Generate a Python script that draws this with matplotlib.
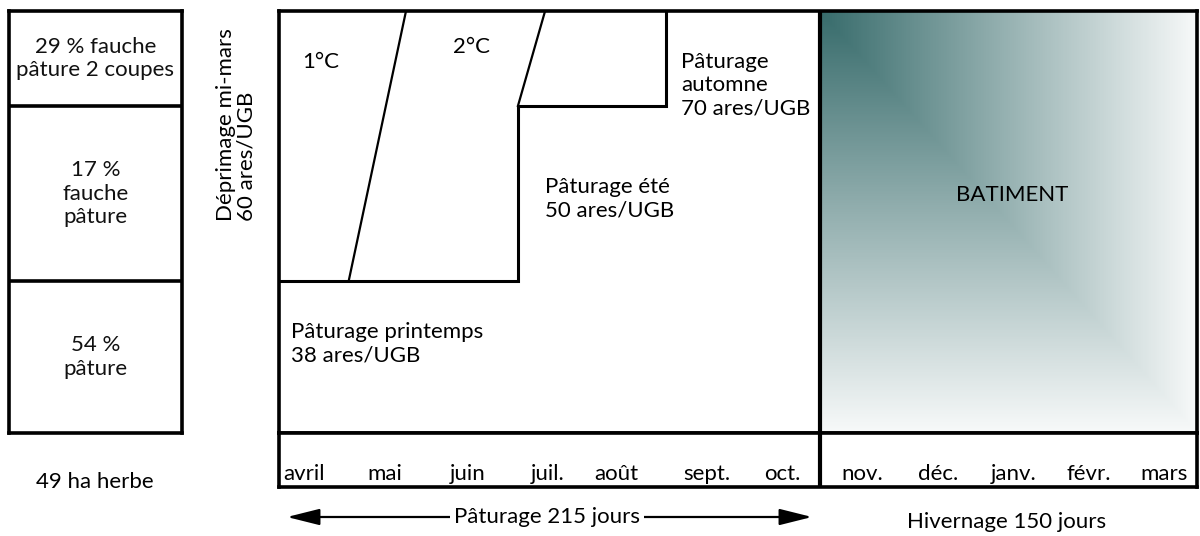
import numpy as np
import matplotlib
matplotlib.use("Agg")
import matplotlib.pyplot as plt
from matplotlib.colors import LinearSegmentedColormap

plt.rcParams['font.family'] = ['Lato', 'DejaVu Sans']

# --- data ---------------------------------------------------------------
# x axis: days from 1 April (0) to 31 March (365)
paturage_jours = 215
hivernage_jours = 150

mois_paturage = ['avril', 'mai', 'juin', 'juil.', 'août', 'sept.', 'oct.']
jours_paturage = [10, 42, 75, 107, 134, 170, 200]
mois_hiver = ['nov.', 'déc.', 'janv.', 'févr.', 'mars']
jours_hiver = [232, 262, 292, 322, 352]

# grazed area limits (relative height of the surface, 0-100)
palier_jours = [0, 95, 95, 154, 154]
palier_niveau = [36, 36, 77.5, 77.5, 100]
somme_1c_jours = [27.7, 50.5]
somme_1c_niveau = [36, 100]
somme_2c_jours = [95, 105.8]
somme_2c_niveau = [77.5, 100]

# share of the 49 ha of grass
parts = [54, 17, 29]
parts_labels = ['54 %\npâture', '17 %\nfauche\npâture', '29 % fauche\npâture 2 coupes']
surface_herbe = 49

# -------------------------------------------------------------------------
W, H = 1200, 536
fig = plt.figure(figsize=(W / 100, H / 100), dpi=100)


def fbox(l, t, r, b):
    return [l / W, 1 - b / H, (r - l) / W, (b - t) / H]


fs = 16
ls = 1.2
lw_border = 2.6
lw_line = 2.2

# main panel
ax = fig.add_axes(fbox(279, 11, 1197, 433))
ax.set_xlim(0, paturage_jours + hivernage_jours)
ax.set_ylim(0, 100)
ax.set_xticks([])
ax.set_yticks([])
for s in ax.spines.values():
    s.set_linewidth(lw_border)

# winter gradient (building)
n = 300
u, v = np.meshgrid(np.linspace(0, 1, n), np.linspace(0, 1, n))
z = np.maximum(u, v)
cmap = LinearSegmentedColormap.from_list('bat', ['#386c6c', '#f7f9f9'])
ax.imshow(z, cmap=cmap, extent=[paturage_jours, paturage_jours + hivernage_jours, 0, 100],
          aspect='auto', origin='upper', interpolation='bilinear', zorder=0)
ax.axvline(paturage_jours, color='black', lw=3, zorder=3)

ax.plot(palier_jours, palier_niveau, color='black', lw=lw_line, solid_joinstyle='miter')
ax.plot(somme_1c_jours, somme_1c_niveau, color='black', lw=1.6)
ax.plot(somme_2c_jours, somme_2c_niveau, color='black', lw=1.6)

# month row
axr = fig.add_axes(fbox(279, 433, 1197, 487))
axr.set_xlim(0, paturage_jours + hivernage_jours)
axr.set_ylim(0, 1)
axr.set_xticks([])
axr.set_yticks([])
for s in axr.spines.values():
    s.set_linewidth(lw_border)
axr.axvline(paturage_jours, color='black', lw=3)
for d, m in zip(jours_paturage + jours_hiver, mois_paturage + mois_hiver):
    axr.text(d, 0.13, m, ha='center', va='baseline', fontsize=fs)

# left box with grass shares
axl = fig.add_axes(fbox(9, 11, 182, 433))
axl.set_xlim(0, 1)
axl.set_ylim(0, 100)
axl.set_xticks([])
axl.set_yticks([])
for s in axl.spines.values():
    s.set_linewidth(lw_border)
bornes = [0, palier_niveau[0], palier_niveau[2], 100]
for y in bornes[1:-1]:
    axl.axhline(y, color='black', lw=lw_border)
for i, lab in enumerate(parts_labels):
    axl.text(0.5, (bornes[i] + bornes[i + 1]) / 2, lab, ha='center', va='center',
             fontsize=fs, linespacing=ls, color='#111111')

# overlay for free text (pixel coordinates)
ov = fig.add_axes([0, 0, 1, 1])
ov.set_xlim(0, W)
ov.set_ylim(H, 0)
ov.axis('off')

ov.text(95, 482, f'{surface_herbe} ha herbe', ha='center', va='center', fontsize=fs)
ov.text(236, 221, 'Déprimage mi-mars\n60 ares/UGB', rotation=90, ha='center', va='bottom',
        multialignment='left', fontsize=fs, linespacing=1.05)
ov.text(321, 62, '1°C', ha='center', va='center', fontsize=fs)
ov.text(471, 47, '2°C', ha='center', va='center', fontsize=fs)
ov.text(681, 85, 'Pâturage\nautomne\n70 ares/UGB', ha='left', va='center',
        fontsize=fs, linespacing=ls)
ov.text(545, 199, 'Pâturage été\n50 ares/UGB', ha='left', va='center',
        fontsize=fs, linespacing=ls)
ov.text(291, 344, 'Pâturage printemps\n38 ares/UGB', ha='left', va='center',
        fontsize=fs, linespacing=ls)
ov.text(1012, 195, 'BATIMENT', ha='center', va='center', fontsize=fs)

ov.annotate('', xy=(287, 517), xytext=(812, 517),
            arrowprops=dict(arrowstyle='<|-|>,head_length=0.8,head_width=0.2',
                            mutation_scale=25, lw=1.6, color='black',
                            shrinkA=0, shrinkB=0))
ov.text(547, 517, f'Pâturage {paturage_jours} jours', ha='center', va='center', fontsize=fs,
        bbox=dict(facecolor='white', edgecolor='none', pad=3))
ov.text(1007, 522, f'Hivernage {hivernage_jours} jours', ha='center', va='center', fontsize=fs)

fig.savefig('out.png', dpi=100, facecolor='white')
